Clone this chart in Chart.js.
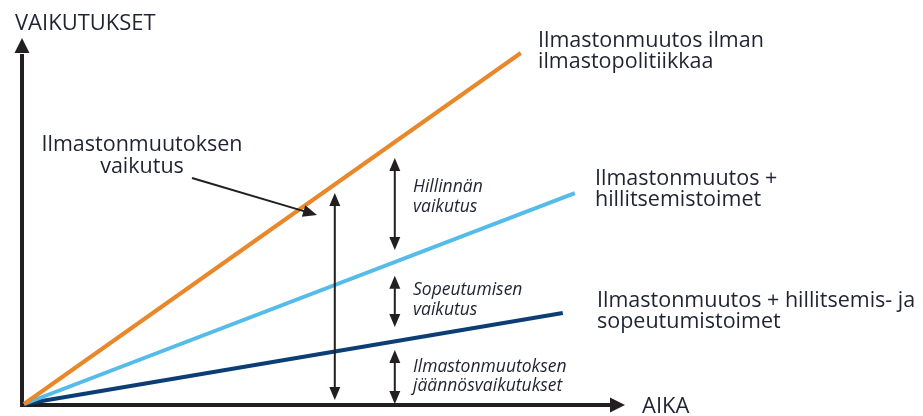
<!DOCTYPE html>
<html>
<head>
<meta charset="utf-8">
<script src="https://cdn.jsdelivr.net/npm/chart.js@4"></script>
<style>
  html, body { margin: 0; padding: 0; background: #fff; }
  #wrap { width: 923px; height: 416px; position: relative; }
</style>
</head>
<body>
<div id="wrap"><canvas id="myChart"></canvas></div>
<script>
'use strict';

// data (time / impact, arbitrary units)
var noPolicyX = [0, 8.28];
var noPolicyY = [0, 9.75];
var mitigationX = [0, 9.18];
var mitigationY = [0, 5.86];
var adaptationX = [0, 8.98];
var adaptationY = [0, 2.53];

var yAxisTitle = 'VAIKUTUKSET';
var xAxisTitle = 'AIKA';

// double arrows: x position and the span they cover
var arrowX = [5.18, 6.18, 6.18, 6.18];
var arrowFrom = [5.86, 6.83, 3.56, 1.50];
var arrowTo = [0.11, 4.28, 2.14, 0.0];

var ink = '#231f20';
var textColor = '#1f2433';

function toPoints(xs, ys) {
  var pts = [];
  for (var i = 0; i < xs.length; i++) {
    pts.push({ x: xs[i], y: ys[i] });
  }
  return pts;
}

function arrowHead(c, x, y, angle, len, half) {
  c.save();
  c.translate(x, y);
  c.rotate(angle);
  c.beginPath();
  c.moveTo(0, 0);
  c.lineTo(-len, -half);
  c.lineTo(-len, half);
  c.closePath();
  c.fill();
  c.restore();
}

function lines(c, txt, x, y, step) {
  for (var i = 0; i < txt.length; i++) {
    c.fillText(txt[i], x, y + i * step);
  }
}

var axesPlugin = {
  id: 'axes',
  beforeDatasetsDraw: function(chart) {
    var c = chart.ctx;
    var xs = chart.scales.x;
    var ys = chart.scales.y;
    var x0 = xs.getPixelForValue(0) - 2;
    var y0 = ys.getPixelForValue(0) + 1;
    var xEnd = xs.getPixelForValue(10);
    var yEnd = ys.getPixelForValue(10);
    c.save();
    c.strokeStyle = ink;
    c.fillStyle = ink;
    c.lineWidth = 4;
    c.beginPath();
    c.moveTo(x0, yEnd + 10);
    c.lineTo(x0, y0);
    c.lineTo(xEnd - 10, y0);
    c.stroke();
    arrowHead(c, x0, yEnd - 6, -Math.PI / 2, 15, 7.5);
    arrowHead(c, xEnd + 1, y0, 0, 15, 7.5);
    c.restore();
  },
  afterDraw: function(chart) {
    var c = chart.ctx;
    var xs = chart.scales.x;
    var ys = chart.scales.y;
    c.save();
    c.fillStyle = textColor;
    c.textBaseline = 'alphabetic';

    // axis titles
    c.font = '22px "Open Sans"';
    c.textAlign = 'left';
    c.fillText(yAxisTitle, 15, 30);
    c.fillText(xAxisTitle, 642, 413);

    // series labels
    c.font = '21.5px "Open Sans"';
    lines(c, ['Ilmastonmuutos ilman', 'ilmastopolitiikkaa'], 538, 47, 21);
    lines(c, ['Ilmastonmuutos +', 'hillitsemistoimet'], 595, 185, 21);
    lines(c, ['Ilmastonmuutos + hillitsemis- ja', 'sopeutumistoimet'], 597, 307, 21);

    c.textAlign = 'center';
    lines(c, ['Ilmastonmuutoksen', 'vaikutus'], 142, 151, 22);

    // effect labels
    c.textAlign = 'left';
    c.font = 'italic 17.5px "Open Sans"';
    lines(c, ['Hillinnän', 'vaikutus'], 413, 192, 20);
    lines(c, ['Sopeutumisen', 'vaikutus'], 413, 295, 20);
    lines(c, ['Ilmastonmuutoksen', 'jäännösvaikutukset'], 413, 372, 19);

    // pointer arrow to the orange line
    c.strokeStyle = ink;
    c.fillStyle = ink;
    c.lineWidth = 2;
    var ang = Math.atan2(215 - 178, 317 - 192);
    c.beginPath();
    c.moveTo(192, 178);
    c.lineTo(317 - 12 * Math.cos(ang), 215 - 12 * Math.sin(ang));
    c.stroke();
    arrowHead(c, 317, 215, ang, 14, 6);

    // double arrows
    for (var i = 0; i < arrowX.length; i++) {
      var px = xs.getPixelForValue(arrowX[i]);
      var top = ys.getPixelForValue(arrowFrom[i]);
      var bot = ys.getPixelForValue(arrowTo[i]);
      c.beginPath();
      c.moveTo(px, top + 10);
      c.lineTo(px, bot - 10);
      c.stroke();
      arrowHead(c, px, top, -Math.PI / 2, 13, 5.5);
      arrowHead(c, px, bot, Math.PI / 2, 13, 5.5);
    }
    c.restore();
  }
};

var ctx = document.getElementById('myChart').getContext('2d');
var chart = new Chart(ctx, {
  type: 'scatter',
  data: {
    datasets: [{
      label: 'Ilmastonmuutos ilman ilmastopolitiikkaa',
      data: toPoints(noPolicyX, noPolicyY),
      borderColor: '#e8882a',
      backgroundColor: '#e8882a'
    }, {
      label: 'Ilmastonmuutos + hillitsemistoimet',
      data: toPoints(mitigationX, mitigationY),
      borderColor: '#55bbe9',
      backgroundColor: '#55bbe9'
    }, {
      label: 'Ilmastonmuutos + hillitsemis- ja sopeutumistoimet',
      data: toPoints(adaptationX, adaptationY),
      borderColor: '#0c3e75',
      backgroundColor: '#0c3e75'
    }]
  },
  options: {
    responsive: true,
    maintainAspectRatio: false,
    animation: false,
    clip: false,
    datasets: {
      scatter: { showLine: true, borderWidth: 4, pointRadius: 0, borderCapStyle: 'butt' }
    },
    layout: { padding: { left: 24, right: 299, top: 44, bottom: 12 } },
    scales: {
      x: { type: 'linear', min: 0, max: 10, display: false },
      y: { type: 'linear', min: 0, max: 10, display: false }
    },
    plugins: {
      legend: { display: false },
      tooltip: { enabled: false }
    }
  },
  plugins: [axesPlugin]
});
</script>
</body>
</html>
